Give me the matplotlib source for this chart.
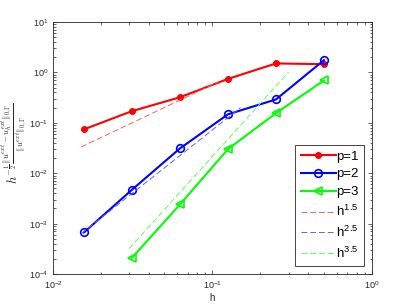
import numpy as np
import matplotlib
matplotlib.use("Agg")
import matplotlib.pyplot as plt

# mesh sizes and relative errors
h = [1/64, 1/32, 1/16, 1/8, 1/4, 1/2]
err_p1 = [0.074, 0.17, 0.32, 0.74, 1.5, 1.45]
err_p2 = [6.7e-4, 4.7e-3, 0.031, 0.147, 0.29, 1.74]
h_p3 = [1/32, 1/16, 1/8, 1/4, 1/2]
err_p3 = [2.1e-4, 2.4e-3, 0.030, 0.155, 0.69]

# reference slopes: (order, constant, h range)
ref_orders = [1.5, 2.5, 3.5]
ref_consts = [18.0, 22.9, 68.5]
ref_ranges = [(0.015, 0.11), (0.015, 0.15), (0.030, 0.30)]
ref_colors = ['#ff6060', '#6060ff', '#60ff60']

plt.rcParams['font.family'] = ['Liberation Sans', 'DejaVu Sans']
plt.rcParams['mathtext.fontset'] = 'cm'

fig = plt.figure(figsize=(4.11, 3.08), dpi=100)
ax = fig.add_axes([0.129, 0.110, 0.776, 0.819])

ax.loglog(h, err_p1, '-', color='#ff0000', lw=1.5, marker='o', ms=4,
          mfc='#ff0000', mec='#ff0000', label='p=1')
ax.loglog(h, err_p2, '-', color='#0000ff', lw=1.5, marker='o', ms=5.5,
          mfc='none', mec='#0000ff', mew=1.2, label='p=2')
ax.loglog(h_p3, err_p3, '-', color='#00ff00', lw=1.5, marker='<', ms=5.5,
          mfc='none', mec='#00ff00', mew=1.2, label='p=3')

for order, c, (a, b), col in zip(ref_orders, ref_consts, ref_ranges, ref_colors):
    hh = np.array([a, b])
    ax.loglog(hh, c * hh**order, '--', color=col, lw=0.7, dashes=(6, 3),
              label=r'h$^{\mathregular{%s}}$' % order)

ax.set_xlim(1e-2, 1e0)
ax.set_ylim(1e-4, 1e1)

ax.tick_params(which='both', direction='in', top=True, right=True,
               colors='#262626', labelsize=6.5, width=0.5)
ax.tick_params(which='major', length=3)
ax.tick_params(which='minor', length=1.8)
for s in ax.spines.values():
    s.set_color('#262626')
    s.set_linewidth(0.6)

ax.set_xlabel('h', fontsize=7, color='#262626', labelpad=2)
ylab = ax.set_ylabel(r'$h^{-\frac{1}{2}}\frac{\|u^{ext}-u_h^{ext}\|_{0,\Gamma}}{\|u^{ext}\|_{0,\Gamma}}$',
                     fontsize=9, color='#262626')
ylab.set_va('center')
ax.yaxis.set_label_coords(-0.122, 0.52)

leg = ax.legend(loc='lower right', fontsize=9.5, fancybox=False, framealpha=1,
                edgecolor='#262626', handlelength=2.7, handletextpad=0.0,
                borderaxespad=0.6, labelspacing=0.42, borderpad=0.4)
leg.get_frame().set_linewidth(0.6)

fig.savefig('out.png', dpi=100)
